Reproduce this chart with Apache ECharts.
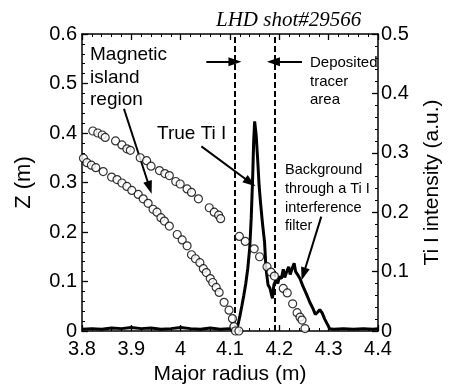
<!DOCTYPE html>
<html>
<head>
<meta charset="utf-8">
<script src="https://cdn.jsdelivr.net/npm/echarts@6/dist/echarts.min.js"></script>
<style>html,body{margin:0;padding:0;background:#fff}#c{width:451px;height:390px}</style>
</head>
<body>
<div id="c"></div>
<script>
// Upper marker set (Major radius, Z)
const upperR = [3.822,3.832,3.841,3.847,3.868,3.881,3.891,3.898,3.918,3.931,3.940,3.957,3.968,3.977,3.990,3.999,4.013,4.022,4.036,4.058,4.068,4.077,4.081,
  4.119,4.131,4.149,4.160,4.175,4.183,4.190,4.208,4.216,4.227,4.236,4.242,4.246,4.252];
const upperZ = [0.404,0.400,0.396,0.391,0.384,0.376,0.368,0.365,0.350,0.344,0.333,0.324,0.318,0.314,0.302,0.297,0.287,0.280,0.267,0.249,0.240,0.234,0.227,
  0.191,0.181,0.166,0.150,0.130,0.119,0.111,0.086,0.077,0.055,0.037,0.028,0.022,0.005];
// Lower marker set
const lowerR = [3.803,3.810,3.819,3.828,3.843,3.860,3.871,3.881,3.891,3.901,3.914,3.924,3.934,3.944,3.952,3.960,3.967,3.977,3.993,4.003,4.013,4.022,4.030,4.039,4.046,4.052,4.060,4.065,4.072,4.078,4.088,4.098,4.105,4.108,4.111,4.118];
const lowerZ = [0.349,0.340,0.335,0.330,0.322,0.311,0.306,0.299,0.292,0.284,0.276,0.267,0.258,0.246,0.240,0.229,0.222,0.212,0.195,0.184,0.172,0.154,0.146,0.138,0.126,0.118,0.106,0.098,0.088,0.078,0.058,0.042,0.025,0.009,0.0,0.0];
// Ti I intensity trace
const lineR = [3.80,3.82,3.84,3.86,3.88,3.90,3.92,3.94,3.96,3.98,4.00,4.02,4.04,4.06,4.08,4.10,4.112,
  4.116,4.120,4.124,4.128,4.132,4.136,4.140,4.143,4.146,4.148,4.150,4.153,4.156,4.159,4.162,4.166,4.170,4.173,4.177,
  4.181,4.184,4.186,4.189,4.193,4.197,4.200,4.204,4.208,4.211,4.215,4.219,4.222,4.226,4.230,4.233,4.237,4.242,4.248,
  4.255,4.262,4.268,4.273,4.278,4.282,4.287,4.292,4.297,4.302,4.31,4.33,4.35,4.37,4.39,4.40];
const lineI = [0.003,0.004,0.003,0.005,0.004,0.006,0.004,0.005,0.003,0.004,0.006,0.004,0.003,0.005,0.003,0.004,0.004,
  0.010,0.025,0.042,0.060,0.080,0.105,0.140,0.190,0.260,0.320,0.353,0.330,0.290,0.245,0.215,0.180,0.150,0.105,0.078,
  0.072,0.075,0.055,0.078,0.085,0.080,0.092,0.088,0.104,0.090,0.100,0.108,0.095,0.105,0.114,0.100,0.095,0.088,0.075,
  0.062,0.048,0.038,0.028,0.032,0.036,0.030,0.020,0.012,0.004,0.003,0.004,0.003,0.004,0.003,0.004];
// Deposited tracer area boundaries
const boundaryR = [4.112, 4.186];
const xTicks = {min: 3.8, max: 4.4, interval: 0.1};
const zTicks = {min: 0, max: 0.6, interval: 0.1};
const iTicks = {min: 0, max: 0.5, interval: 0.1};

const zip = (a, b) => a.map((v, i) => [v, b[i]]);
const font = 'Liberation Sans, Arial, sans-serif';
const axisCommon = {
  axisLine: {show: true, onZero: false, lineStyle: {color: '#000', width: 1.5}},
  axisTick: {show: true, inside: true, length: 6, lineStyle: {color: '#000', width: 1.3}},
  minorTick: {show: true, splitNumber: 5, length: 3, lineStyle: {color: '#000', width: 1}},
  splitLine: {show: false}
};
const fmt = v => String(+v.toFixed(1));

const chart = echarts.init(document.getElementById('c'), null, {renderer: 'canvas'});
const arrow = (x1, y1, x2, y2) => [{coord: [x1, y1]}, {coord: [x2, y2]}];
chart.setOption({
  animation: false,
  backgroundColor: '#fff',
  grid: {left: 82, right: 64, top: 34, bottom: 54},
  xAxis: [
    Object.assign({type: 'value', position: 'bottom', min: xTicks.min, max: xTicks.max, interval: xTicks.interval,
      name: 'Major radius (m)', nameLocation: 'middle', nameGap: 33,
      nameTextStyle: {color: '#000', fontSize: 21, fontFamily: font},
      axisLabel: {color: '#000', fontSize: 20, fontFamily: font, margin: 8, formatter: fmt}}, axisCommon),
    Object.assign({type: 'value', position: 'top', min: xTicks.min, max: xTicks.max, interval: xTicks.interval,
      axisLabel: {show: false}}, axisCommon)
  ],
  yAxis: [
    Object.assign({type: 'value', position: 'left', min: zTicks.min, max: zTicks.max, interval: zTicks.interval,
      name: 'Z (m)', nameLocation: 'middle', nameGap: 47, nameRotate: 90,
      nameTextStyle: {color: '#000', fontSize: 22, fontFamily: font},
      axisLabel: {color: '#000', fontSize: 20, fontFamily: font, margin: 5, formatter: fmt}}, axisCommon),
    Object.assign({type: 'value', position: 'right', min: iTicks.min, max: iTicks.max, interval: iTicks.interval,
      name: 'Ti I intensity (a.u.)', nameLocation: 'middle', nameGap: 44, nameRotate: 90,
      nameTextStyle: {color: '#000', fontSize: 21, fontFamily: font},
      axisLabel: {color: '#000', fontSize: 20, fontFamily: font, margin: 3, formatter: fmt}}, axisCommon)
  ],
  series: [
    {
      type: 'line', xAxisIndex: 0, yAxisIndex: 1, data: zip(lineR, lineI),
      showSymbol: false, symbol: 'none', lineStyle: {color: '#000', width: 3}, z: 3,
      markLine: {
        silent: true, symbol: ['none', 'none'], label: {show: false},
        lineStyle: {color: '#000', width: 2, type: [6, 3]},
        data: boundaryR.map(r => ({xAxis: r}))
      }
    },
    {
      type: 'scatter', xAxisIndex: 0, yAxisIndex: 0, data: zip(upperR, upperZ),
      symbol: 'circle', symbolSize: 8, itemStyle: {color: '#fff', borderColor: '#000', borderWidth: 1.2}, z: 5
    },
    {
      type: 'scatter', xAxisIndex: 0, yAxisIndex: 0, data: zip(lowerR, lowerZ),
      symbol: 'circle', symbolSize: 8, itemStyle: {color: '#fff', borderColor: '#000', borderWidth: 1.2}, z: 5,
      markLine: {
        silent: true, symbol: ['none', 'triangle'], symbolSize: [9, 13], label: {show: false},
        lineStyle: {color: '#000', width: 2, type: 'solid'},
        data: [
          arrow(3.885, 0.449, 3.937, 0.290),
          arrow(4.042, 0.373, 4.141, 0.300),
          arrow(4.285, 0.231, 4.249, 0.115),
          arrow(4.052, 0.544, 4.110, 0.544),
          arrow(4.246, 0.544, 4.188, 0.544)
        ]
      }
    }
  ],
  graphic: [
    {type: 'text', left: 216, top: 10, style: {text: 'LHD shot#29566', fill: '#000', font: 'italic 21px "Liberation Serif", "Times New Roman", serif'}},
    {type: 'text', left: 90, top: 44, style: {text: 'Magnetic\nisland\nregion', fill: '#000', font: '19px ' + font, lineHeight: 22.5}},
    {type: 'text', left: 157, top: 124, style: {text: 'True Ti I', fill: '#000', font: '19px ' + font}},
    {type: 'text', left: 310, top: 54, style: {text: 'Deposited\ntracer\narea', fill: '#000', font: '15px ' + font, lineHeight: 18.5}},
    {type: 'text', left: 285, top: 161, style: {text: 'Background\nthrough a Ti I\ninterference\nfilter', fill: '#000', font: '14.5px ' + font, lineHeight: 18.7}}
  ]
});
</script>
</body>
</html>
